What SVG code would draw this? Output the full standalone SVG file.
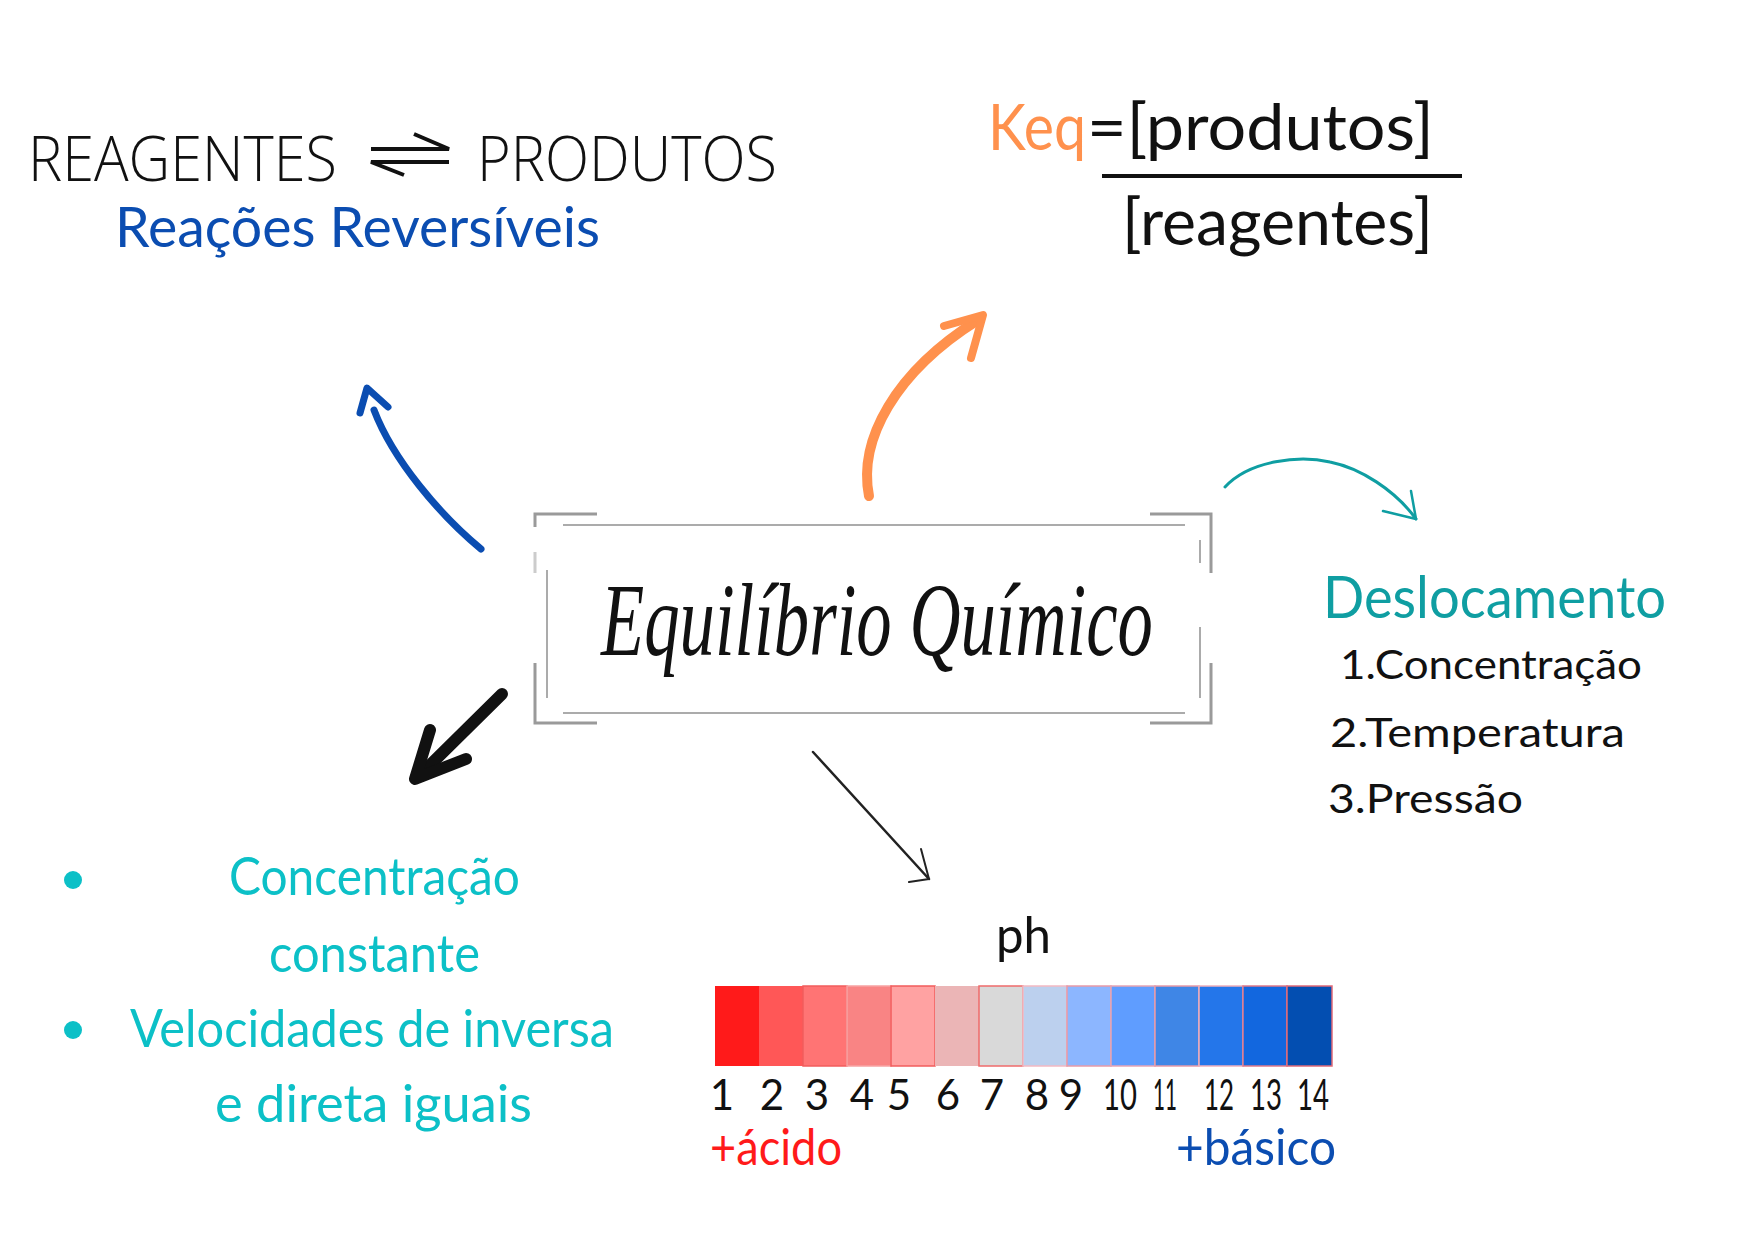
<svg xmlns="http://www.w3.org/2000/svg" width="1748" height="1240" viewBox="0 0 1748 1240">
  <style>
    .hand { font-family: Lato, "Open Sans", "DejaVu Sans", sans-serif; }
    .light { font-family: "Open Sans", "Liberation Sans", sans-serif; font-weight: 300; fill: #111; }
    .frameO { fill: none; stroke: #9a9a9a; stroke-width: 3; }
    .frameI { fill: none; stroke: #ababab; stroke-width: 2; }
    .num { font-family: Lato, "Open Sans", sans-serif; font-size: 42px; fill: #111; text-anchor: middle; }
    .teal { fill: #0f9ea2; }
    .cyan { fill: #0cc0c7; }
  </style>
  <rect width="1748" height="1240" fill="#ffffff"/>

  <g id="reacoes">
    <text class="light" x="28" y="181" font-size="63" textLength="309" lengthAdjust="spacingAndGlyphs">REAGENTES</text>
    <path d="M371,149 H449 L414,134 M449,162 H371 L404,175" fill="none" stroke="#111" stroke-width="4" stroke-linejoin="miter"/>
    <text class="light" x="477" y="181" font-size="63" textLength="300" lengthAdjust="spacingAndGlyphs">PRODUTOS</text>
    <text class="hand" x="115" y="247" font-size="57" fill="#0b4db1" textLength="485" lengthAdjust="spacingAndGlyphs">Reações Reversíveis</text>
  </g>

  <g id="keq">
    <text class="hand" x="988" y="150" font-size="64" fill="#ff914d" textLength="98" lengthAdjust="spacingAndGlyphs">Keq</text>
    <text class="hand" x="1087" y="150" font-size="64" fill="#111" textLength="347" lengthAdjust="spacingAndGlyphs">=[produtos]</text>
    <line x1="1102" y1="176" x2="1462" y2="176" stroke="#111" stroke-width="4"/>
    <text class="hand" x="1122" y="245" font-size="64" fill="#111" textLength="311" lengthAdjust="spacingAndGlyphs">[reagentes]</text>
  </g>

  <g id="titulo">
    <path class="frameO" d="M535,527 V514 H597 M535,663 V723 H597 M1150,514 H1211 V573 M1211,663 V723 H1150"/>
    <path class="frameO" d="M535,552 V573" stroke-opacity="0.5"/>
    <path class="frameI" d="M563,525 H1185 M563,713 H1185 M547,570 V698 M1200,540 V563 M1200,627 V698"/>
    <text transform="translate(601,655) scale(0.68,1)" x="0" y="0" font-family="'Liberation Serif', 'DejaVu Serif', serif" font-style="italic" font-size="104" fill="#111">Equilíbrio Químico</text>
  </g>

  <g id="deslocamento">
    <text class="hand teal" x="1323" y="618" font-size="58" textLength="343" lengthAdjust="spacingAndGlyphs">Deslocamento</text>
    <text class="hand" x="1340" y="679" font-size="40" fill="#111" textLength="302" lengthAdjust="spacingAndGlyphs">1.Concentração</text>
    <text class="hand" x="1330" y="747" font-size="40" fill="#111" textLength="295" lengthAdjust="spacingAndGlyphs">2.Temperatura</text>
    <text class="hand" x="1328" y="813" font-size="40" fill="#111" textLength="195" lengthAdjust="spacingAndGlyphs">3.Pressão</text>
  </g>

  <g id="propriedades">
    <circle class="cyan" cx="73" cy="880" r="9"/>
    <text class="hand cyan" x="229" y="895" font-size="52" textLength="291" lengthAdjust="spacingAndGlyphs">Concentração</text>
    <text class="hand cyan" x="269" y="972" font-size="52" textLength="211" lengthAdjust="spacingAndGlyphs">constante</text>
    <circle class="cyan" cx="73" cy="1030" r="9"/>
    <text class="hand cyan" x="130" y="1047" font-size="52" textLength="484" lengthAdjust="spacingAndGlyphs">Velocidades de inversa</text>
    <text class="hand cyan" x="215" y="1122" font-size="52" textLength="317" lengthAdjust="spacingAndGlyphs">e direta iguais</text>
  </g>

  <g id="ph">
    <text class="hand" x="996" y="953" font-size="50" fill="#111" textLength="55" lengthAdjust="spacingAndGlyphs">ph</text>
    <rect x="715" y="986" width="45" height="80" fill="#ff1a1a"/>
    <rect x="759" y="986" width="45" height="80" fill="#ff5757"/>
    <rect x="803" y="986" width="44" height="80" fill="#ff7474" stroke="#f25c5c" stroke-width="1.5"/>
    <rect x="847" y="986" width="44" height="80" fill="#f98484" stroke="#f7a3a3" stroke-width="1.5"/>
    <rect x="891" y="986" width="44" height="80" fill="#ffa2a2" stroke="#f25c5c" stroke-width="1.5"/>
    <rect x="935" y="986" width="44" height="80" fill="#ebb5b6"/>
    <rect x="979" y="986" width="44" height="80" fill="#d9d9d9" stroke="#ef6b6b" stroke-width="1.5"/>
    <rect x="1023" y="986" width="44" height="80" fill="#bcd0ee" stroke="#f3b9c2" stroke-width="1.5"/>
    <rect x="1067" y="986" width="44" height="80" fill="#8cb6ff" stroke="#e79aa8" stroke-width="1.5"/>
    <rect x="1111" y="986" width="44" height="80" fill="#5f9dff" stroke="#e7a5b4" stroke-width="1.5"/>
    <rect x="1155" y="986" width="44" height="80" fill="#3f86e6" stroke="#e79aa8" stroke-width="1.5"/>
    <rect x="1199" y="986" width="44" height="80" fill="#2476ea" stroke="#efb0bc" stroke-width="1.5"/>
    <rect x="1243" y="986" width="44" height="80" fill="#1267df" stroke="#e07a8a" stroke-width="1.5"/>
    <rect x="1287" y="986" width="45" height="80" fill="#034eb1" stroke="#e06a78" stroke-width="1.5"/>
    <text class="num" x="722" y="1110">1</text>
    <text class="num" x="772" y="1110">2</text>
    <text class="num" x="817" y="1110">3</text>
    <text class="num" x="862" y="1110">4</text>
    <text class="num" x="899" y="1110">5</text>
    <text class="num" x="948" y="1110">6</text>
    <text class="num" x="992" y="1110">7</text>
    <text class="num" x="1037" y="1110">8</text>
    <text class="num" x="1071" y="1110">9</text>
    <text class="num" x="1120" y="1110" textLength="34" lengthAdjust="spacingAndGlyphs">10</text>
    <text class="num" x="1165" y="1110" textLength="24" lengthAdjust="spacingAndGlyphs">11</text>
    <text class="num" x="1219" y="1110" textLength="30" lengthAdjust="spacingAndGlyphs">12</text>
    <text class="num" x="1266" y="1110" textLength="32" lengthAdjust="spacingAndGlyphs">13</text>
    <text class="num" x="1313" y="1110" textLength="32" lengthAdjust="spacingAndGlyphs">14</text>
    <text class="hand" x="710" y="1165" font-size="50" fill="#ff1a1a" textLength="132" lengthAdjust="spacingAndGlyphs">+ácido</text>
    <text class="hand" x="1176" y="1165" font-size="50" fill="#0b4db1" textLength="160" lengthAdjust="spacingAndGlyphs">+básico</text>
  </g>

  <g id="connectors" fill="none" stroke-linecap="round" stroke-linejoin="round">
    <path d="M481,549 C440,515 393,460 374,410" stroke="#0b4db1" stroke-width="7"/>
    <path d="M360,413 L367,388 L388,407" stroke="#0b4db1" stroke-width="7"/>
    <path d="M869,496 C858,440 895,372 978,320" stroke="#ff914d" stroke-width="10"/>
    <path d="M944,326 L983,315 L971,358" stroke="#ff914d" stroke-width="8"/>
    <path d="M1225,487 C1250,460 1300,455 1330,462 C1360,468 1395,490 1416,519" stroke="#0f9ea2" stroke-width="3"/>
    <path d="M1411,491 L1416,519 L1383,511" stroke="#0f9ea2" stroke-width="2.5"/>
    <path d="M813,752 L929,879" stroke="#222" stroke-width="2.5"/>
    <path d="M921,849 L929,879 L909,882" stroke="#222" stroke-width="2"/>
    <path d="M502,694 L421,774" stroke="#111" stroke-width="12"/>
    <path d="M430,730 L415,779 L466,759" stroke="#111" stroke-width="12"/>
  </g>
</svg>
